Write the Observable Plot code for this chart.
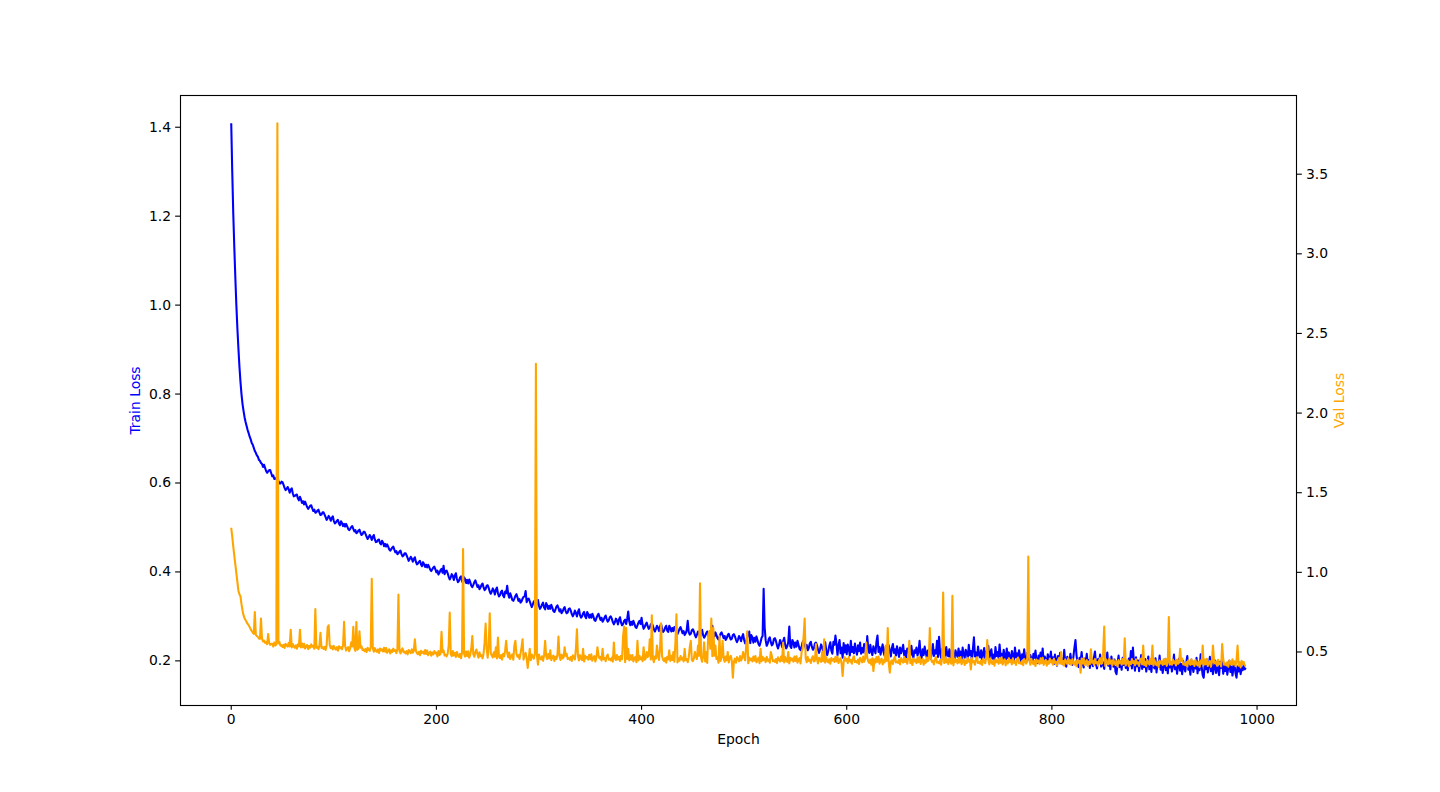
<!DOCTYPE html>
<html>
<head>
<meta charset="utf-8">
<script src="https://cdn.jsdelivr.net/npm/d3@7"></script>
<script src="https://cdn.jsdelivr.net/npm/@observablehq/plot@0.6"></script>
<style>
  html, body { margin: 0; padding: 0; background: white; }
  #wrap { position: relative; width: 1440px; height: 792px; }
  #wrap svg { position: absolute; left: 0; top: 0; }
</style>
</head>
<body>
<div id="wrap"></div>
<script>
// Train loss per epoch (epochs 0..989)
const trainLoss = [
1.409,1.300,1.205,1.130,1.062,1.000,0.948,0.903,0.862,0.828,
0.800,0.778,0.762,0.748,0.737,0.728,0.719,0.712,0.704,0.698,
0.690,0.686,0.679,0.672,0.668,0.662,0.659,0.652,0.650,0.645,
0.643,0.636,0.641,0.634,0.627,0.623,0.626,0.629,0.629,0.622,
0.615,0.617,0.609,0.609,0.612,0.613,0.605,0.599,0.599,0.603,
0.602,0.596,0.589,0.584,0.587,0.591,0.586,0.578,0.585,0.588,
0.577,0.570,0.571,0.573,0.574,0.565,0.561,0.569,0.563,0.555,
0.559,0.552,0.558,0.552,0.546,0.542,0.545,0.549,0.550,0.543,
0.537,0.540,0.533,0.534,0.538,0.540,0.533,0.528,0.529,0.534,
0.534,0.529,0.523,0.517,0.521,0.526,0.522,0.515,0.521,0.525,
0.515,0.509,0.511,0.515,0.517,0.509,0.505,0.514,0.510,0.503,
0.508,0.502,0.508,0.503,0.497,0.494,0.497,0.501,0.503,0.497,
0.491,0.494,0.487,0.489,0.493,0.495,0.488,0.483,0.485,0.490,
0.490,0.485,0.479,0.474,0.478,0.483,0.479,0.472,0.479,0.483,
0.473,0.467,0.468,0.472,0.473,0.465,0.462,0.470,0.466,0.458,
0.463,0.457,0.462,0.457,0.451,0.448,0.451,0.455,0.457,0.450,
0.444,0.447,0.440,0.442,0.446,0.448,0.440,0.435,0.437,0.442,
0.442,0.437,0.431,0.425,0.429,0.434,0.430,0.423,0.429,0.433,
0.423,0.417,0.419,0.423,0.425,0.417,0.413,0.422,0.418,0.411,
0.416,0.410,0.416,0.411,0.405,0.402,0.406,0.410,0.412,0.406,
0.399,0.403,0.394,0.398,0.404,0.407,0.398,0.414,0.395,0.402,
0.403,0.397,0.389,0.383,0.388,0.395,0.391,0.382,0.392,0.397,
0.384,0.377,0.380,0.387,0.390,0.379,0.375,0.388,0.384,0.375,
0.382,0.374,0.383,0.377,0.369,0.366,0.371,0.377,0.381,0.374,
0.366,0.370,0.361,0.365,0.371,0.374,0.365,0.359,0.362,0.369,
0.370,0.364,0.356,0.351,0.356,0.363,0.358,0.349,0.360,0.365,
0.352,0.345,0.348,0.355,0.358,0.347,0.343,0.356,0.352,0.369,
0.350,0.342,0.352,0.345,0.337,0.335,0.340,0.346,0.350,0.343,
0.335,0.339,0.331,0.334,0.340,0.344,0.345,0.357,0.332,0.339,
0.340,0.334,0.327,0.321,0.327,0.334,0.329,0.321,0.331,0.337,
0.324,0.317,0.321,0.327,0.331,0.320,0.316,0.330,0.325,0.317,
0.324,0.317,0.326,0.320,0.312,0.310,0.315,0.322,0.325,0.319,
0.311,0.316,0.307,0.311,0.317,0.321,0.312,0.307,0.309,0.317,
0.318,0.313,0.305,0.300,0.305,0.313,0.308,0.300,0.310,0.316,
0.303,0.297,0.300,0.307,0.310,0.300,0.296,0.310,0.305,0.297,
0.304,0.297,0.306,0.300,0.292,0.290,0.296,0.302,0.306,0.299,
0.292,0.297,0.288,0.292,0.298,0.302,0.294,0.288,0.291,0.298,
0.300,0.295,0.287,0.282,0.287,0.295,0.291,0.282,0.293,0.298,
0.286,0.280,0.283,0.290,0.293,0.283,0.295,0.311,0.289,0.280,
0.288,0.281,0.290,0.284,0.276,0.274,0.280,0.286,0.290,0.283,
0.297,0.281,0.272,0.276,0.282,0.286,0.278,0.272,0.275,0.282,
0.284,0.279,0.271,0.266,0.272,0.279,0.275,0.267,0.277,0.283,
0.271,0.265,0.268,0.275,0.279,0.268,0.265,0.279,0.274,0.266,
0.274,0.267,0.276,0.270,0.262,0.260,0.266,0.272,0.276,0.269,
0.262,0.267,0.258,0.262,0.269,0.290,0.264,0.259,0.261,0.269,
0.271,0.266,0.258,0.253,0.259,0.266,0.262,0.254,0.264,0.270,
0.258,0.252,0.256,0.262,0.266,0.256,0.253,0.267,0.268,0.279,
0.262,0.255,0.264,0.258,0.251,0.248,0.254,0.261,0.264,0.258,
0.251,0.256,0.247,0.251,0.258,0.261,0.253,0.248,0.250,0.258,
0.260,0.255,0.248,0.242,0.248,0.256,0.252,0.244,0.254,0.260,
0.247,0.239,0.244,0.253,0.258,0.266,0.240,0.258,0.253,0.241,
0.252,0.243,0.255,0.247,0.238,0.234,0.242,0.252,0.256,0.362,
0.275,0.246,0.234,0.239,0.249,0.253,0.242,0.235,0.238,0.249,
0.251,0.245,0.235,0.228,0.236,0.247,0.241,0.231,0.244,0.252,
0.236,0.228,0.233,0.242,0.277,0.233,0.229,0.247,0.242,0.230,
0.241,0.232,0.245,0.236,0.227,0.224,0.232,0.242,0.246,0.237,
0.229,0.236,0.224,0.229,0.239,0.243,0.232,0.225,0.228,0.239,
0.241,0.235,0.225,0.218,0.226,0.237,0.231,0.221,0.234,0.242,
0.224,0.213,0.222,0.234,0.242,0.223,0.216,0.243,0.236,0.257,
0.239,0.213,0.235,0.247,0.217,0.230,0.207,0.240,0.219,0.235,
0.215,0.237,0.228,0.212,0.245,0.220,0.231,0.217,0.239,0.224,
0.214,0.235,0.222,0.241,0.216,0.229,0.219,0.238,0.223,0.212,
0.256,0.227,0.218,0.236,0.221,0.213,0.233,0.225,0.217,0.243,
0.257,0.220,0.231,0.214,0.226,0.237,0.219,0.211,0.232,0.224,
0.216,0.235,0.222,0.210,0.229,0.238,0.218,0.226,0.212,0.233,
0.221,0.209,0.230,0.217,0.225,0.236,0.213,0.222,0.208,0.228,
0.219,0.227,0.211,0.234,0.216,0.207,0.224,0.218,0.230,0.212,
0.221,0.245,0.215,0.206,0.226,0.213,0.232,0.219,0.208,0.223,
0.214,0.229,0.205,0.220,0.238,0.211,0.224,0.216,0.245,0.209,
0.254,0.218,0.207,0.227,0.213,0.222,0.204,0.231,0.215,0.210,
0.226,0.206,0.219,0.233,0.212,0.203,0.224,0.216,0.209,0.228,
0.211,0.221,0.202,0.230,0.214,0.207,0.225,0.218,0.205,0.236,
0.213,0.222,0.201,0.227,0.253,0.210,0.219,0.204,0.232,0.215,
0.208,0.224,0.200,0.217,0.229,0.206,0.221,0.212,0.234,0.203,
0.218,0.226,0.205,0.214,0.199,0.231,0.211,0.220,0.207,0.237,
0.209,0.216,0.201,0.225,0.212,0.198,0.228,0.206,0.219,0.210,
0.203,0.222,0.213,0.197,0.230,0.208,0.217,0.200,0.224,0.211,
0.199,0.215,0.206,0.226,0.204,0.196,0.218,0.209,0.202,0.213,
0.205,0.198,0.216,0.207,0.223,0.200,0.195,0.212,0.204,0.219,
0.201,0.228,0.196,0.210,0.203,0.194,0.215,0.206,0.199,0.221,
0.197,0.208,0.193,0.214,0.202,0.189,0.211,0.200,0.218,0.195,
0.205,0.192,0.225,0.198,0.187,0.209,0.201,0.194,0.216,0.199,
0.191,0.210,0.230,0.247,0.213,0.196,0.186,0.207,0.199,0.220,
0.194,0.185,0.205,0.197,0.216,0.190,0.202,0.184,0.211,0.195,
0.188,0.208,0.221,0.193,0.183,0.204,0.197,0.214,0.187,0.200,
0.192,0.182,0.206,0.196,0.219,0.189,0.201,0.181,0.210,0.194,
0.187,0.203,0.176,0.170,0.195,0.212,0.186,0.199,0.180,0.207,
0.191,0.216,0.184,0.198,0.179,0.205,0.190,0.222,0.183,0.230,
0.196,0.178,0.208,0.188,0.201,0.177,0.193,0.213,0.182,0.199,
0.186,0.204,0.176,0.194,0.210,0.181,0.197,0.175,0.202,0.189,
0.183,0.206,0.174,0.195,0.187,0.212,0.180,0.198,0.173,0.191,
0.203,0.179,0.194,0.172,0.208,0.185,0.197,0.176,0.190,0.214,
0.181,0.199,0.171,0.188,0.205,0.178,0.193,0.170,0.200,0.184,
0.176,0.196,0.211,0.180,0.190,0.169,0.202,0.186,0.175,0.198,
0.183,0.207,0.172,0.192,0.179,0.215,0.187,0.168,0.162,0.195,
0.181,0.203,0.174,0.190,0.209,0.177,0.196,0.170,0.185,0.201,
0.173,0.192,0.180,0.168,0.198,0.184,0.206,0.171,0.189,0.177,
0.194,0.169,0.186,0.200,0.175,0.191,0.167,0.183,0.197,0.172,
0.162,0.188,0.176,0.193,0.170,0.185,0.179,0.190,0.181,0.184
];

// Validation loss per epoch (epochs 0..989)
const valLoss = [
1.280,1.225,1.162,1.105,1.050,0.995,0.940,0.885,0.862,0.850,
0.800,0.762,0.730,0.712,0.700,0.688,0.676,0.668,0.656,0.642,
0.632,0.622,0.614,0.750,0.608,0.600,0.594,0.585,0.582,0.710,
0.584,0.566,0.572,0.558,0.562,0.549,0.612,0.556,0.545,0.551,
0.552,0.534,0.560,0.541,0.547,3.820,0.554,0.563,0.539,0.543,
0.531,0.545,0.525,0.552,0.541,0.533,0.557,0.535,0.640,0.528,
0.550,0.534,0.527,0.542,0.520,0.548,0.535,0.640,0.529,0.553,
0.529,0.552,0.522,0.536,0.544,0.518,0.538,0.527,0.548,0.533,
0.538,0.520,0.770,0.527,0.533,0.518,0.540,0.620,0.525,0.529,
0.519,0.533,0.513,0.540,0.655,0.668,0.545,0.523,0.536,0.516,
0.538,0.522,0.515,0.530,0.508,0.536,0.523,0.531,0.517,0.541,
0.690,0.539,0.509,0.523,0.531,0.505,0.525,0.560,0.535,0.658,
0.525,0.507,0.688,0.514,0.520,0.630,0.527,0.536,0.512,0.516,
0.505,0.519,0.499,0.526,0.515,0.507,0.531,0.960,0.522,0.502,
0.524,0.508,0.501,0.516,0.494,0.522,0.509,0.517,0.503,0.527,
0.502,0.525,0.495,0.509,0.517,0.491,0.511,0.500,0.521,0.506,
0.511,0.493,0.519,0.860,0.506,0.491,0.513,0.522,0.498,0.502,
0.491,0.505,0.485,0.512,0.501,0.493,0.517,0.495,0.508,0.580,
0.509,0.493,0.486,0.501,0.479,0.507,0.494,0.502,0.488,0.512,
0.487,0.510,0.480,0.494,0.502,0.476,0.496,0.485,0.506,0.491,
0.496,0.472,0.506,0.481,0.488,0.626,0.498,0.510,0.478,0.483,
0.472,0.490,0.540,0.747,0.486,0.474,0.506,0.478,0.495,0.468,
0.500,0.478,0.469,0.489,0.460,0.496,1.146,0.490,0.471,0.503,
0.474,0.504,0.464,0.483,0.520,0.600,0.485,0.470,0.499,0.515,
0.488,0.464,0.498,0.473,0.480,0.460,0.490,0.560,0.678,0.520,
0.464,0.540,0.743,0.492,0.478,0.466,0.498,0.470,0.530,0.460,
0.590,0.470,0.461,0.481,0.452,0.488,0.472,0.510,0.570,0.495,
0.466,0.496,0.456,0.475,0.485,0.451,0.540,0.570,0.491,0.470,
0.480,0.456,0.490,0.530,0.580,0.452,0.482,0.494,0.462,0.400,
0.456,0.520,0.448,0.484,0.470,0.458,0.490,2.310,0.479,0.420,
0.484,0.462,0.453,0.473,0.444,0.480,0.570,0.474,0.455,0.487,
0.459,0.510,0.449,0.468,0.478,0.444,0.470,0.455,0.484,0.597,
0.474,0.450,0.484,0.459,0.466,0.530,0.476,0.488,0.456,0.461,
0.451,0.469,0.443,0.479,0.465,0.453,0.520,0.643,0.474,0.447,
0.480,0.458,0.449,0.520,0.440,0.476,0.460,0.470,0.451,0.483,
0.455,0.485,0.445,0.464,0.474,0.440,0.466,0.530,0.480,0.459,
0.470,0.446,0.520,0.455,0.462,0.442,0.472,0.484,0.452,0.457,
0.447,0.465,0.439,0.560,0.461,0.449,0.481,0.453,0.470,0.443,
0.476,0.454,0.600,0.660,0.436,0.650,0.456,0.520,0.447,0.479,
0.451,0.481,0.441,0.460,0.470,0.436,0.570,0.447,0.476,0.455,
0.466,0.442,0.530,0.451,0.458,0.500,0.468,0.480,0.580,0.453,
0.730,0.462,0.436,0.472,0.458,0.540,0.478,0.450,0.520,0.680,
0.473,0.451,0.442,0.462,0.433,0.469,0.453,0.510,0.444,0.476,
0.449,0.500,0.439,0.560,0.737,0.434,0.460,0.445,0.474,0.453,
0.464,0.440,0.520,0.449,0.456,0.436,0.466,0.530,0.570,0.451,
0.442,0.460,0.500,0.470,0.456,0.540,0.476,0.932,0.465,0.438,
0.471,0.560,0.440,0.500,0.431,0.610,0.630,0.520,0.710,0.474,
0.650,0.477,0.540,0.456,0.466,0.432,0.600,0.443,0.472,0.570,
0.462,0.438,0.472,0.447,0.500,0.434,0.464,0.476,0.444,0.338,
0.440,0.458,0.432,0.468,0.454,0.442,0.474,0.446,0.463,0.500,
0.469,0.447,0.540,0.630,0.429,0.465,0.449,0.459,0.440,0.472,
0.445,0.475,0.435,0.454,0.464,0.430,0.520,0.441,0.470,0.449,
0.460,0.436,0.470,0.445,0.452,0.432,0.500,0.474,0.442,0.447,
0.438,0.456,0.430,0.466,0.452,0.440,0.472,0.444,0.560,0.434,
0.468,0.446,0.437,0.500,0.428,0.464,0.448,0.458,0.439,0.471,
0.443,0.473,0.433,0.452,0.462,0.428,0.500,0.520,0.600,0.710,
0.459,0.435,0.469,0.444,0.451,0.431,0.461,0.473,0.441,0.446,
0.550,0.454,0.428,0.464,0.450,0.438,0.500,0.442,0.580,0.432,
0.466,0.444,0.435,0.455,0.426,0.462,0.446,0.456,0.437,0.469,
0.441,0.471,0.431,0.450,0.460,0.426,0.350,0.437,0.466,0.445,
0.457,0.430,0.468,0.441,0.449,0.426,0.459,0.473,0.437,0.442,
0.433,0.453,0.424,0.464,0.448,0.435,0.471,0.439,0.458,0.560,
0.465,0.441,0.431,0.453,0.420,0.461,0.380,0.454,0.432,0.468,
0.438,0.472,0.427,0.449,0.459,0.422,0.450,0.434,0.540,0.443,
0.650,0.428,0.370,0.439,0.447,0.424,0.457,0.471,0.435,0.440,
0.431,0.451,0.422,0.462,0.446,0.433,0.469,0.437,0.456,0.426,
0.463,0.570,0.429,0.451,0.418,0.459,0.440,0.452,0.430,0.466,
0.436,0.470,0.425,0.447,0.457,0.420,0.448,0.432,0.465,0.441,
0.453,0.650,0.464,0.437,0.445,0.422,0.455,0.469,0.433,0.438,
0.429,0.449,0.420,0.460,0.873,0.431,0.467,0.435,0.454,0.424,
0.461,0.437,0.427,0.852,0.416,0.457,0.438,0.450,0.428,0.464,
0.434,0.468,0.423,0.445,0.455,0.418,0.446,0.430,0.463,0.439,
0.451,0.390,0.462,0.435,0.443,0.420,0.453,0.467,0.431,0.436,
0.427,0.447,0.418,0.458,0.442,0.429,0.465,0.575,0.452,0.422,
0.459,0.435,0.425,0.447,0.414,0.455,0.436,0.448,0.426,0.462,
0.432,0.466,0.421,0.443,0.453,0.416,0.444,0.428,0.461,0.437,
0.449,0.422,0.460,0.433,0.441,0.418,0.451,0.465,0.429,0.434,
0.425,0.445,0.416,0.456,0.440,0.427,0.463,1.100,0.450,0.420,
0.457,0.433,0.423,0.445,0.412,0.453,0.434,0.446,0.424,0.460,
0.430,0.464,0.419,0.441,0.451,0.414,0.442,0.426,0.459,0.435,
0.447,0.420,0.458,0.431,0.439,0.416,0.449,0.463,0.427,0.500,
0.423,0.443,0.414,0.454,0.438,0.425,0.461,0.429,0.448,0.418,
0.455,0.431,0.421,0.443,0.410,0.451,0.432,0.444,0.370,0.458,
0.428,0.462,0.417,0.439,0.449,0.412,0.440,0.424,0.517,0.433,
0.445,0.418,0.456,0.429,0.437,0.414,0.447,0.461,0.425,0.430,
0.500,0.660,0.412,0.452,0.436,0.423,0.459,0.427,0.446,0.416,
0.453,0.429,0.419,0.441,0.408,0.449,0.430,0.442,0.420,0.456,
0.426,0.586,0.415,0.437,0.447,0.410,0.438,0.422,0.455,0.431,
0.443,0.416,0.454,0.427,0.435,0.412,0.445,0.459,0.423,0.540,
0.419,0.439,0.410,0.450,0.434,0.421,0.457,0.425,0.540,0.414,
0.451,0.427,0.417,0.439,0.406,0.447,0.428,0.440,0.418,0.454,
0.424,0.458,0.413,0.435,0.720,0.420,0.436,0.420,0.453,0.429,
0.442,0.415,0.453,0.426,0.434,0.520,0.444,0.458,0.422,0.427,
0.417,0.437,0.408,0.448,0.432,0.419,0.455,0.423,0.442,0.412,
0.450,0.426,0.416,0.438,0.405,0.446,0.427,0.540,0.417,0.453,
0.423,0.457,0.412,0.434,0.444,0.407,0.435,0.540,0.452,0.428,
0.440,0.413,0.451,0.424,0.432,0.409,0.550,0.456,0.420,0.425,
0.416,0.436,0.407,0.447,0.431,0.418,0.454,0.422,0.441,0.411,
0.448,0.540,0.414,0.436,0.403,0.444,0.425,0.437,0.415,0.412
];

const xTicks = [0, 200, 400, 600, 800, 1000];
const trainTicks = [0.2, 0.4, 0.6, 0.8, 1.0, 1.2, 1.4];
const valTicks = [0.5, 1.0, 1.5, 2.0, 2.5, 3.0, 3.5];

const xLabel = "Epoch";
const trainLabel = "Train Loss";
const valLabel = "Val Loss";

// matplotlib-like 5% margins around the data extent
function padded([lo, hi]) { const r = hi - lo; return [lo - 0.05 * r, hi + 0.05 * r]; }
const n = Math.max(trainLoss.length, valLoss.length);
const xDomain = padded([0, n - 1]);
const trainDomain = padded(d3.extent(trainLoss));
const valDomain = padded(d3.extent(valLoss));

const W = 1440, H = 792;
const margins = { marginLeft: 180, marginRight: 144, marginTop: 95, marginBottom: 87 };
const baseStyle = { fontFamily: "DejaVu Sans, sans-serif", fontSize: "13.9px", color: "black" };
const lineW = 2.08;   // 1.5pt at 100 dpi
const spineW = 1.11;  // 0.8pt
const tickLen = 4.86; // 3.5pt

const trainRows = trainLoss.map((v, i) => ({ epoch: i, loss: v }));
const valRows = valLoss.map((v, i) => ({ epoch: i, loss: v }));

const left = Plot.plot({
  width: W, height: H, ...margins,
  style: { ...baseStyle, background: "white" },
  x: { domain: xDomain },
  y: { domain: trainDomain },
  marks: [
    Plot.line(trainRows, { x: "epoch", y: "loss", stroke: "blue", strokeWidth: lineW, strokeLinejoin: "round", strokeLinecap: "butt" }),
    Plot.axisX({ ticks: xTicks, tickFormat: d => String(d), tickSize: tickLen, tickPadding: 4.2, strokeWidth: spineW, label: null, fill: "black" }),
    Plot.axisY({ anchor: "left", ticks: trainTicks, tickFormat: d3.format(".1f"), tickSize: tickLen, tickPadding: 4.6, strokeWidth: spineW, label: null, fill: "black" }),
    Plot.text([xLabel], { text: d => d, frameAnchor: "bottom", textAnchor: "middle", dy: 38, fill: "black" }),
    Plot.text([trainLabel], { text: d => d, frameAnchor: "left", textAnchor: "middle", dx: -45, rotate: -90, fill: "blue" })
  ]
});

const right = Plot.plot({
  width: W, height: H, ...margins,
  style: { ...baseStyle, background: "transparent" },
  x: { domain: xDomain, axis: null },
  y: { domain: valDomain },
  marks: [
    Plot.line(valRows, { x: "epoch", y: "loss", stroke: "orange", strokeWidth: lineW, strokeLinejoin: "round", strokeLinecap: "butt" }),
    Plot.axisY({ anchor: "right", ticks: valTicks, tickFormat: d3.format(".1f"), tickSize: tickLen, tickPadding: 4.6, strokeWidth: spineW, label: null, fill: "black" }),
    Plot.text([valLabel], { text: d => d, frameAnchor: "right", textAnchor: "middle", dx: 43, rotate: -90, fill: "orange" }),
    Plot.frame({ stroke: "black", strokeWidth: spineW })
  ]
});

const wrap = document.getElementById("wrap");
wrap.appendChild(left);
wrap.appendChild(right);
</script>
</body>
</html>
